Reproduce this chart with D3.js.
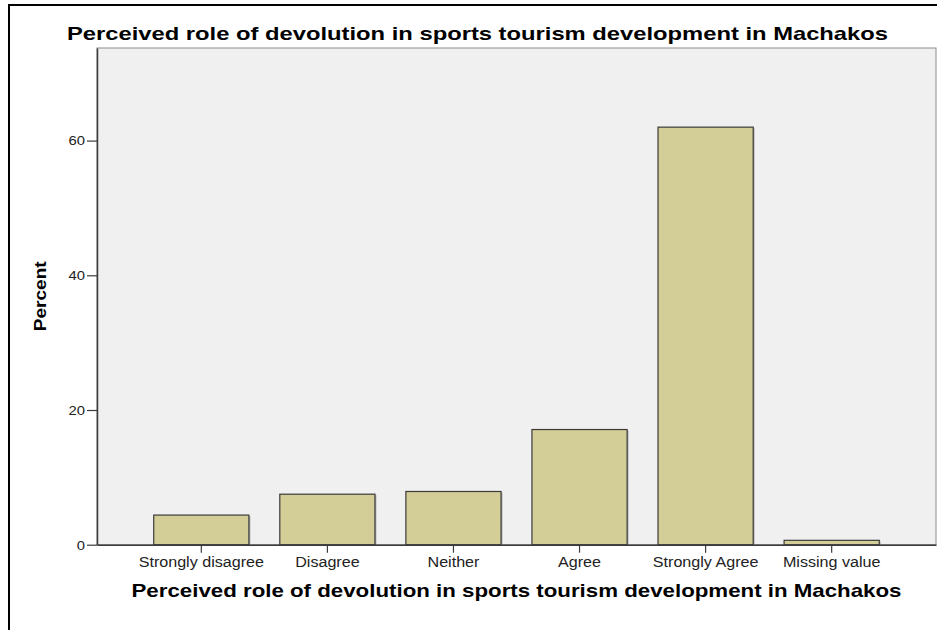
<!DOCTYPE html>
<html>
<head>
<meta charset="utf-8">
<script src="https://cdn.jsdelivr.net/npm/d3@7"></script>
<style>
  body { margin: 0; background: #fff; }
  svg { display: block; font-family: Arial, "Liberation Sans", sans-serif; }
</style>
</head>
<body>
<svg id="chart"></svg>
<script>
// data
const categories = ['Strongly disagree', 'Disagree', 'Neither', 'Agree', 'Strongly Agree', 'Missing value']
const percents = [4.4, 7.5, 7.9, 17.1, 62.0, 0.65]
const yTicks = [0, 20, 40, 60]
const chartTitle = 'Perceived role of devolution in sports tourism development in Machakos'
const xTitle = 'Perceived role of devolution in sports tourism development in Machakos'
const yTitle = 'Percent'

const W = 937, H = 630
const plot = { left: 97, top: 48, right: 936, bottom: 544.7 }

const svg = d3.select('#chart')
    .attr('width', W)
    .attr('height', H)

svg.append('rect')
    .attr('width', W)
    .attr('height', H)
    .attr('fill', '#fff')

// outer frame (only top and left show in the crop)
svg.append('line')
    .attr('x1', 8).attr('x2', W).attr('y1', 5).attr('y2', 5)
    .attr('stroke', '#000').attr('stroke-width', 2)
svg.append('line')
    .attr('x1', 9).attr('x2', 9).attr('y1', 4).attr('y2', H)
    .attr('stroke', '#000').attr('stroke-width', 2)

const xScale = d3.scaleBand()
    .domain(categories)
    .range([plot.left, plot.right])
    .paddingInner(0.245)
    .paddingOuter(0.45)

const yScale = d3.scaleLinear()
    .domain([0, 73.75])
    .range([plot.bottom, plot.top])

// plot background
svg.append('rect')
    .attr('x', plot.left)
    .attr('y', plot.top)
    .attr('width', plot.right - plot.left)
    .attr('height', plot.bottom - plot.top)
    .attr('fill', '#f0f0f0')
    .attr('stroke', '#8c8c8c')
    .attr('stroke-width', 1)

// stretch text horizontally to the width it has in the picture
function stretch(sel, k) {
    sel.each(function() {
        const len = this.getComputedTextLength()
        d3.select(this)
            .attr('textLength', len * k)
            .attr('lengthAdjust', 'spacingAndGlyphs')
    })
}

// bars
const bars = svg.append('g')
bars.selectAll('.shadow')
    .data(percents)
    .join('rect')
    .attr('class', 'shadow')
    .attr('x', (d, i) => xScale(categories[i]) + 1.5)
    .attr('y', d => yScale(d) + 1)
    .attr('width', xScale.bandwidth())
    .attr('height', d => yScale(0) - yScale(d) - 1)
    .attr('fill', '#b8b8b8')

bars.selectAll('.bar')
    .data(percents)
    .join('rect')
    .attr('class', 'bar')
    .attr('x', (d, i) => xScale(categories[i]))
    .attr('y', d => yScale(d))
    .attr('width', xScale.bandwidth())
    .attr('height', d => yScale(0) - yScale(d))
    .attr('fill', '#d3ce97')
    .attr('stroke', '#3a3a3a')
    .attr('stroke-width', 1.2)

// y axis
const yAxisG = svg.append('g')
    .attr('transform', `translate(${plot.left},0)`)
    .call(d3.axisLeft(yScale).tickValues(yTicks).tickSize(10).tickPadding(2).tickSizeOuter(0))
yAxisG.select('.domain').attr('stroke', '#3c3c3c').attr('stroke-width', 1.5)
yAxisG.selectAll('.tick line').attr('stroke', '#3c3c3c').attr('stroke-width', 1.2)
yAxisG.selectAll('.tick text')
    .attr('font-size', 13.5)
    .attr('fill', '#222')
    .call(stretch, 1.1)

// x axis
const xAxisG = svg.append('g')
    .attr('transform', `translate(0,${plot.bottom})`)
    .call(d3.axisBottom(xScale).tickSize(8).tickPadding(4.5).tickSizeOuter(0))
xAxisG.select('.domain').attr('stroke', '#3c3c3c').attr('stroke-width', 1.5)
xAxisG.selectAll('.tick line').attr('stroke', '#3c3c3c').attr('stroke-width', 1.2)
xAxisG.selectAll('.tick text')
    .attr('font-size', 14)
    .attr('fill', '#222')
    .call(stretch, 1.15)

// titles
svg.append('text')
    .attr('x', 67)
    .attr('y', 40)
    .attr('font-size', 18.5)
    .attr('font-weight', 'bold')
    .attr('fill', '#000')
    .attr('textLength', 821)
    .attr('lengthAdjust', 'spacingAndGlyphs')
    .text(chartTitle)

svg.append('text')
    .attr('x', (plot.left + plot.right) / 2)
    .attr('y', 597)
    .attr('text-anchor', 'middle')
    .attr('font-size', 18.5)
    .attr('font-weight', 'bold')
    .attr('fill', '#000')
    .attr('textLength', 770)
    .attr('lengthAdjust', 'spacingAndGlyphs')
    .text(xTitle)

svg.append('text')
    .attr('transform', `translate(46,${(plot.top + plot.bottom) / 2}) rotate(-90)`)
    .attr('text-anchor', 'middle')
    .attr('font-size', 16)
    .attr('font-weight', 'bold')
    .attr('fill', '#000')
    .attr('textLength', 70)
    .attr('lengthAdjust', 'spacingAndGlyphs')
    .text(yTitle)
</script>
</body>
</html>
